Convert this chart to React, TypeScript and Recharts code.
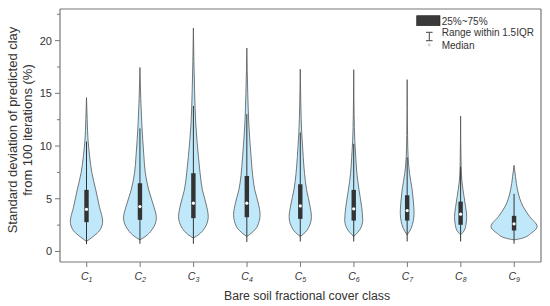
import React from "react";
import { ComposedChart, Bar, Line, XAxis, YAxis, Legend, Label, Curve } from "recharts";

// classes along the x axis
const categories = ["C1", "C2", "C3", "C4", "C5", "C6", "C7", "C8", "C9"];

// box statistics (%)
const minVals = [0.7, 0.73, 0.73, 0.9, 0.95, 0.95, 0.95, 0.95, 0.73];
const maxVals = [14.6, 17.45, 21.2, 19.3, 17.3, 17.25, 16.3, 12.84, 8.17];
const q1Vals = [2.78, 3.0, 3.16, 3.25, 3.09, 2.93, 2.93, 2.53, 1.99];
const medianVals = [4.0, 4.26, 4.58, 4.58, 4.32, 4.04, 3.88, 3.54, 2.62];
const q3Vals = [5.84, 6.47, 7.42, 7.16, 6.37, 5.84, 5.33, 4.73, 3.38];

// violin outlines: [value, half width as share of half the category band]
const profileC1 = [[0.95, 0], [1.4, 0.24], [2.0, 0.5], [2.85, 0.61], [4.2, 0.49], [5.84, 0.35], [7.5, 0.2], [9.0, 0.12], [10.5, 0.06], [12.5, 0.025], [14.6, 0]];
const profileC2 = [[1.1, 0], [1.45, 0.22], [2.05, 0.45], [3.2, 0.62], [4.3, 0.52], [5.84, 0.33], [7.5, 0.2], [9.0, 0.15], [12.1, 0.07], [14.5, 0.03], [17.45, 0]];
const profileC3 = [[1.27, 0], [1.6, 0.2], [2.2, 0.42], [3.3, 0.56], [4.5, 0.48], [5.84, 0.34], [7.5, 0.25], [9.0, 0.19], [12.1, 0.09], [15.3, 0.045], [18, 0.02], [21.2, 0]];
const profileC4 = [[1.42, 0], [1.8, 0.2], [2.4, 0.4], [3.5, 0.5], [4.6, 0.43], [5.84, 0.3], [7.2, 0.22], [9.0, 0.16], [12.1, 0.075], [15, 0.035], [19.3, 0]];
const profileC5 = [[1.42, 0], [1.8, 0.18], [2.4, 0.34], [3.3, 0.42], [4.4, 0.36], [5.84, 0.24], [7.4, 0.16], [9.0, 0.11], [11.2, 0.055], [14, 0.02], [17.3, 0]];
const profileC6 = [[1.42, 0], [1.8, 0.15], [2.3, 0.28], [3.0, 0.34], [4.2, 0.3], [5.84, 0.2], [7.4, 0.12], [9.0, 0.075], [10.5, 0.04], [13, 0.015], [17.25, 0]];
const profileC7 = [[1.58, 0], [2.2, 0.15], [2.9, 0.23], [3.63, 0.26], [4.6, 0.24], [5.84, 0.19], [7.4, 0.09], [9.0, 0.035], [11, 0.015], [16.3, 0]];
const profileC8 = [[1.58, 0], [2.05, 0.15], [2.7, 0.21], [3.3, 0.23], [4.2, 0.19], [5.2, 0.13], [6.5, 0.055], [8, 0.02], [12.84, 0]];
const profileC9 = [[1.1, 0], [1.25, 0.3], [1.74, 0.65], [2.37, 0.87], [3.3, 0.59], [4.26, 0.34], [5.84, 0.13], [7.1, 0.055], [8.17, 0]];
const profiles = [profileC1, profileC2, profileC3, profileC4, profileC5, profileC6, profileC7, profileC8, profileC9];

const yTicks = [0, 2.5, 5, 7.5, 10, 12.5, 15, 17.5, 20, 22.5];

const data = categories.map((cls, i) => {
  const iqr = q3Vals[i] - q1Vals[i];
  return {
    cls,
    span: [minVals[i], maxVals[i]],
    q1: q1Vals[i],
    median: medianVals[i],
    q3: q3Vals[i],
    upper: Math.min(maxVals[i], q3Vals[i] + 1.5 * iqr),
    profile: profiles[i],
  };
});

const AXIS = "#777";
const FONT = "'Liberation Sans', Arial, sans-serif";

const Violin = (props: any) => {
  const { x, y, width, height, payload } = props;
  const [lo, hi] = payload.span;
  const top = Math.min(y, y + height);
  const h = Math.abs(height);
  const toY = (v: number) => top + ((hi - v) / (hi - lo)) * h;
  const cx = x + width / 2;
  const half = width / 2;
  const sorted = [...payload.profile].sort((a: number[], b: number[]) => b[0] - a[0]);
  const right = sorted.map(([v, w]: number[]) => ({ x: cx + w * half, y: toY(v) }));
  const left = sorted.map(([v, w]: number[]) => ({ x: cx - w * half, y: toY(v) }));
  return (
    <g>
      <Curve type="monotone" layout="vertical" points={right} baseLine={left}
        fill="#bfe9fb" stroke="#555" strokeWidth={0.8} />
      <line x1={cx} x2={cx} y1={toY(lo)} y2={toY(payload.upper)} stroke="#333" strokeWidth={1} />
      <rect x={cx - 2.2} width={4.4} y={toY(payload.q3)} height={toY(payload.q1) - toY(payload.q3)} fill="#333" />
      <circle cx={cx} cy={toY(payload.median)} r={1.6} fill="#fff" />
    </g>
  );
};

const XTick = ({ x, y, payload }: any) => (
  <g>
    <line x1={x} x2={x} y1={y} y2={y + 5} stroke={AXIS} />
    <text x={x} y={y + 18} textAnchor="middle" fontStyle="italic" fontSize={10.5} fill="#333" fontFamily={FONT}>
      C<tspan fontSize={7} dy={2}>{String(payload.value).slice(1)}</tspan>
    </text>
  </g>
);

const YTick = ({ x, y, payload }: any) => {
  const major = payload.value % 5 === 0;
  return (
    <g>
      <line x1={x - (major ? 5 : 3)} x2={x} y1={y} y2={y} stroke={AXIS} />
      {major && (
        <text x={x - 8} y={y + 4} textAnchor="end" fontSize={11} fill="#333" fontFamily={FONT}>
          {payload.value}
        </text>
      )}
    </g>
  );
};

const YTitle = () => (
  <text transform="translate(0,130) rotate(-90)" textAnchor="middle" fontSize={13} fill="#333" fontFamily={FONT}>
    <tspan x={0} y={17}>Standard deviation of predicted clay</tspan>
    <tspan x={0} y={32}>from 100 iterations (%)</tspan>
  </text>
);

const XTitle = () => (
  <text x={307} y={300} textAnchor="middle" fontSize={12.3} fill="#333" fontFamily={FONT}>
    Bare soil fractional cover class
  </text>
);

const LegendBox = () => (
  <svg width={140} height={45} style={{ display: "block" }}>
    <rect x={6.7} y={5.7} width={23.3} height={10} fill="#3a3a3a" stroke="#222" strokeWidth={0.6} />
    <text x={31.7} y={14.5} fontSize={10} fill="#333" fontFamily={FONT}>25%~75%</text>
    <line x1={19.3} x2={19.3} y1={22.3} y2={30.7} stroke="#444" />
    <line x1={16} x2={22.6} y1={22.3} y2={22.3} stroke="#444" />
    <line x1={16} x2={22.6} y1={30.7} y2={30.7} stroke="#444" />
    <text x={31.7} y={26} fontSize={10} fill="#333" fontFamily={FONT}>Range within 1.5IQR</text>
    <circle cx={19.3} cy={35} r={1.4} fill="#d0d0d0" />
    <text x={31.7} y={39} fontSize={10} fill="#333" fontFamily={FONT}>Median</text>
  </svg>
);

export default function App() {
  return (
    <div style={{ width: 550, height: 306, background: "#fff" }}>
      <style>{"body{margin:0}"}</style>
      <ComposedChart width={550} height={306} data={data} barCategoryGap={0}
        margin={{ top: 8, right: 8, left: 0, bottom: 0 }}>
        <XAxis dataKey="cls" interval={0} height={44} tickSize={0} tickMargin={0} tickLine={false}
          axisLine={{ stroke: AXIS, strokeWidth: 1.2 }} tick={<XTick />}>
          <Label content={<XTitle />} />
        </XAxis>
        <XAxis xAxisId="top" dataKey="cls" orientation="top" height={1} tick={false} tickLine={false}
          axisLine={{ stroke: AXIS, strokeWidth: 1.2 }} />
        <YAxis type="number" domain={[-1, 23]} ticks={yTicks} interval={0} width={60} tickSize={0}
          tickMargin={0} tickLine={false} axisLine={{ stroke: AXIS, strokeWidth: 1.2 }} tick={<YTick />}>
          <Label content={<YTitle />} />
        </YAxis>
        <YAxis yAxisId="right" orientation="right" type="number" domain={[-1, 23]} width={1} tick={false}
          tickLine={false} axisLine={{ stroke: AXIS, strokeWidth: 1.2 }} />
        <Legend layout="vertical" align="center" verticalAlign="middle" content={<LegendBox />}
          wrapperStyle={{ left: 410, top: 10, width: 140, height: 45 }} />
        <Bar dataKey="span" shape={<Violin />} isAnimationActive={false} />
        {/* invisible series so the frame axes on top/right get drawn */}
        <Line xAxisId="top" yAxisId="right" dataKey="median" stroke="none" dot={false}
          activeDot={false} legendType="none" isAnimationActive={false} />
      </ComposedChart>
    </div>
  );
}
